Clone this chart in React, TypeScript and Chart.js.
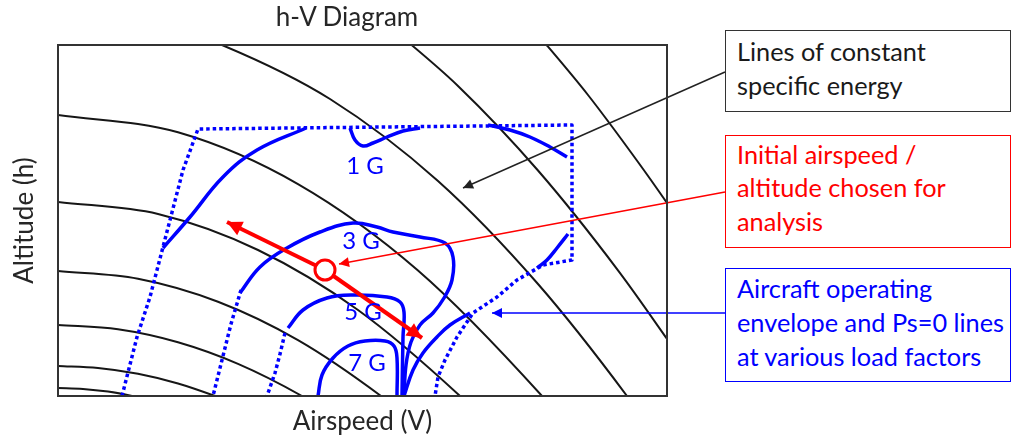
import React, { useEffect, useRef } from 'react';
import { Chart, registerables } from 'chart.js';

Chart.register(...registerables);

// Axis ranges (arbitrary airspeed / altitude units)
const V_MAX = 609;
const H_MAX = 351;

// Lines of constant specific energy
const energy1 = [{ x: 0, y: 8 }, { x: 25, y: 7.1 }, { x: 50, y: 4.4 }, { x: 74, y: 0 }, { x: 95, y: -5 }];
const energy2 = [{ x: 0, y: 30 }, { x: 40, y: 28 }, { x: 80, y: 22.2 }, { x: 120, y: 12.5 }, { x: 157, y: 0 }, { x: 180, y: -9 }];
const energy3 = [{ x: 0, y: 71 }, { x: 60, y: 66.7 }, { x: 120, y: 53.7 }, { x: 180, y: 32.1 }, { x: 244, y: 0 }, { x: 270, y: -16 }];
const energy4 = [{ x: 0, y: 125 }, { x: 80, y: 117.3 }, { x: 160, y: 94.3 }, { x: 240, y: 55.9 }, { x: 323, y: 0 }, { x: 350, y: -22 }];
const energy5 = [{ x: 0, y: 194 }, { x: 100, y: 182 }, { x: 200, y: 146 }, { x: 300, y: 86 }, { x: 402, y: 0 }, { x: 430, y: -28 }];
const energy6 = [{ x: 0, y: 281 }, { x: 120, y: 263.7 }, { x: 240, y: 211.9 }, { x: 360, y: 125.5 }, { x: 484, y: 0 }, { x: 510, y: -31 }];
const energy7 = [{ x: 120, y: 366 }, { x: 164, y: 351 }, { x: 272, y: 297 }, { x: 380, y: 215 }, { x: 480, y: 112 }, { x: 569, y: 0 }, { x: 600, y: -44 }];
const energy8 = [{ x: 330, y: 371 }, { x: 400, y: 310 }, { x: 480, y: 225.5 }, { x: 560, y: 125.7 }, { x: 609, y: 57 }, { x: 630, y: 26 }];
const energy9 = [{ x: 470, y: 373 }, { x: 530, y: 301 }, { x: 580, y: 234 }, { x: 609, y: 193 }, { x: 630, y: 162 }];
const energyLines = [energy1, energy2, energy3, energy4, energy5, energy6, energy7, energy8, energy9];

// Operating envelope (dotted)
const envelopeOuter = [
  { x: 64, y: 0 }, { x: 79, y: 59 }, { x: 92, y: 99 }, { x: 105, y: 149 }, { x: 125, y: 226 }, { x: 140, y: 267 },
  { x: 514, y: 271 }, { x: 514, y: 136 }, { x: 485, y: 131 }, { x: 459, y: 116 }, { x: 439, y: 99 }, { x: 415, y: 83 },
  { x: 399, y: 59 }, { x: 387, y: 36 }, { x: 380, y: 19 }, { x: 377, y: 0 },
];
const envelope3G = [{ x: 183, y: 106 }, { x: 173, y: 72 }, { x: 164, y: 36 }, { x: 155, y: 0 }];
const envelope5G = [{ x: 227, y: 63 }, { x: 222, y: 42 }, { x: 217, y: 23 }, { x: 209, y: 0 }];

// Ps = 0 lines at various load factors
const ps1GLeft = [{ x: 105, y: 148 }, { x: 132, y: 179 }, { x: 165, y: 219 }, { x: 199, y: 246 }, { x: 248, y: 268 }];
const ps1GNotch = [{ x: 292, y: 268 }, { x: 297, y: 256 }, { x: 305, y: 250 }, { x: 315, y: 253 }, { x: 329, y: 259 }, { x: 345, y: 265 }, { x: 362, y: 268 }];
const ps1GRight = [{ x: 430, y: 271 }, { x: 452, y: 266 }, { x: 472, y: 259 }, { x: 492, y: 249 }, { x: 509, y: 239 }];
const ps1GLow = [{ x: 510, y: 162 }, { x: 499, y: 148 }, { x: 489, y: 136 }, { x: 479, y: 128 }];
const ps3G = [
  { x: 182, y: 103 }, { x: 202, y: 129 }, { x: 229, y: 148 }, { x: 262, y: 164 }, { x: 295, y: 173 }, { x: 319, y: 169 },
  { x: 335, y: 164 }, { x: 362, y: 159 }, { x: 387, y: 153 }, { x: 395, y: 139 }, { x: 394, y: 116 }, { x: 386, y: 98 },
  { x: 375, y: 83 }, { x: 362, y: 71 }, { x: 353, y: 54 }, { x: 348, y: 31 }, { x: 346, y: 0 },
];
const ps5G = [{ x: 230, y: 68 }, { x: 245, y: 86 }, { x: 269, y: 98 }, { x: 295, y: 101 }, { x: 329, y: 99 }, { x: 342, y: 94 }, { x: 346, y: 84 }, { x: 345, y: 59 }, { x: 344, y: 0 }];
const ps7G = [{ x: 260, y: 0 }, { x: 264, y: 21 }, { x: 275, y: 38 }, { x: 290, y: 50 }, { x: 307, y: 55 }, { x: 327, y: 55 }, { x: 336, y: 50 }, { x: 339, y: 38 }, { x: 339, y: 0 }];
const psBranch = [{ x: 346, y: 0 }, { x: 355, y: 26 }, { x: 365, y: 43 }, { x: 379, y: 59 }, { x: 392, y: 71 }, { x: 412, y: 83 }];

const gLabelText = ['1 G', '3 G', '5 G', '7 G'];
const gLabelV = [307, 303, 305, 309];
const gLabelH = [230, 155, 84, 33];

// Initial point and manoeuvre arrows
const initialPoint = [{ x: 267, y: 126 }];
const arrowClimb = [{ x: 267, y: 126 }, { x: 169, y: 174 }];
const arrowDive = [{ x: 267, y: 126 }, { x: 364, y: 58 }];

// Callout pointers (from the boxes into the plot)
const pointerEnergy = [{ x: 667, y: 324 }, { x: 405, y: 208 }];
const pointerInitial = [{ x: 667, y: 204 }, { x: 281, y: 132 }];
const pointerEnvelope = [{ x: 667, y: 83 }, { x: 434, y: 83 }];

const BLUE = '#0000ff';
const RED = '#ff0000';
const FONT = 'Lato, "Open Sans", sans-serif';

const decorPlugin = {
  id: 'decor',
  afterDatasetsDraw(chart: any) {
    const { ctx, chartArea: a, scales } = chart;
    ctx.save();
    chart.data.datasets.forEach((ds: any, i: number) => {
      if (!ds.arrowHead) return;
      const pts = chart.getDatasetMeta(i).data;
      const p1 = pts[pts.length - 2];
      const p2 = pts[pts.length - 1];
      const ang = Math.atan2(p2.y - p1.y, p2.x - p1.x);
      const L = ds.arrowHead;
      const W = L * 0.5;
      ctx.fillStyle = ds.borderColor;
      ctx.beginPath();
      ctx.moveTo(p2.x, p2.y);
      ctx.lineTo(p2.x - L * Math.cos(ang) + W * Math.sin(ang), p2.y - L * Math.sin(ang) - W * Math.cos(ang));
      ctx.lineTo(p2.x - L * Math.cos(ang) - W * Math.sin(ang), p2.y - L * Math.sin(ang) + W * Math.cos(ang));
      ctx.closePath();
      ctx.fill();
    });
    ctx.fillStyle = BLUE;
    ctx.font = '24px ' + FONT;
    ctx.textAlign = 'center';
    ctx.textBaseline = 'middle';
    gLabelText.forEach((t, i) => {
      ctx.fillText(t, scales.x.getPixelForValue(gLabelV[i]), scales.y.getPixelForValue(gLabelH[i]));
    });
    ctx.strokeStyle = '#333333';
    ctx.lineWidth = 2;
    ctx.strokeRect(a.left, a.top, a.right - a.left, a.bottom - a.top);
    ctx.restore();
  },
};

function line(data: any[], color: string, width: number, extra: any = {}) {
  return {
    data,
    showLine: true,
    borderColor: color,
    backgroundColor: color,
    borderWidth: width,
    pointRadius: 0,
    pointHoverRadius: 0,
    fill: false,
    borderJoinStyle: 'round',
    ...extra,
  };
}

export default function App() {
  const ref = useRef<HTMLCanvasElement>(null);

  useEffect(() => {
    const canvas = ref.current;
    if (!canvas) return;
    const solidBlue = { tension: 0.4, order: 2 };
    const dottedBlue = { tension: 0, borderDash: [3.5, 3], order: 2 };
    const datasets: any[] = [
      line(initialPoint, RED, 3, { showLine: false, pointRadius: 10, pointBorderWidth: 3, pointBackgroundColor: '#ffffff', pointBorderColor: RED, order: 0 }),
      line(arrowClimb, RED, 4, { arrowHead: 15, order: 1 }),
      line(arrowDive, RED, 4, { arrowHead: 15, order: 1 }),
      line(pointerEnergy, '#222222', 1.5, { arrowHead: 10, clip: false, order: 1 }),
      line(pointerInitial, RED, 1.5, { arrowHead: 10, clip: false, order: 1 }),
      line(pointerEnvelope, BLUE, 1.5, { arrowHead: 10, clip: false, order: 1 }),
      line(envelopeOuter, BLUE, 3.5, dottedBlue),
      line(envelope3G, BLUE, 3.5, dottedBlue),
      line(envelope5G, BLUE, 3.5, dottedBlue),
      line(ps1GLeft, BLUE, 3.5, solidBlue),
      line(ps1GNotch, BLUE, 3.5, solidBlue),
      line(ps1GRight, BLUE, 3.5, solidBlue),
      line(ps1GLow, BLUE, 3.5, solidBlue),
      line(ps3G, BLUE, 3.5, solidBlue),
      line(ps5G, BLUE, 3.5, solidBlue),
      line(ps7G, BLUE, 3.5, solidBlue),
      line(psBranch, BLUE, 3.5, solidBlue),
      ...energyLines.map((d) => line(d, '#161616', 2, { cubicInterpolationMode: 'monotone', order: 3 })),
    ];

    const chart = new Chart(canvas, {
      type: 'scatter',
      data: { datasets },
      options: {
        responsive: false,
        animation: false,
        events: [],
        devicePixelRatio: 1,
        layout: { padding: { left: 0, right: 346, top: 45, bottom: 0 } },
        plugins: { legend: { display: false }, tooltip: { enabled: false }, title: { display: false } },
        scales: {
          x: {
            type: 'linear',
            min: 0,
            max: V_MAX,
            grid: { display: false, drawTicks: false },
            border: { display: false },
            ticks: { display: false },
            title: { display: true, text: 'Airspeed (V)', color: '#262626', font: { family: FONT, size: 26 }, padding: { top: 10.4, bottom: 5.4 } },
          },
          y: {
            type: 'linear',
            min: 0,
            max: H_MAX,
            grid: { display: false, drawTicks: false },
            border: { display: false },
            ticks: { display: false },
            title: { display: true, text: 'Altitude (h)', color: '#262626', font: { family: FONT, size: 26 }, padding: { top: 9.4, bottom: 17.4 } },
          },
        },
      },
      plugins: [decorPlugin],
    } as any);
    return () => chart.destroy();
  }, []);

  const boxes = [
    { lines: ['Lines of constant', 'specific energy'], color: '#1a1a1a', border: '#333333', top: 30, height: 82, lh: 34, pad: 3.4 },
    { lines: ['Initial airspeed /', 'altitude chosen for', 'analysis'], color: RED, border: RED, top: 135, height: 113, lh: 33.3, pad: 2 },
    { lines: ['Aircraft operating', 'envelope and Ps=0 lines', 'at various load factors'], color: BLUE, border: BLUE, top: 268, height: 114, lh: 34.2, pad: 1.6 },
  ];

  return (
    <div style={{ position: 'absolute', left: 0, top: 0, width: 1013, height: 443, background: '#ffffff', overflow: 'hidden', fontFamily: FONT }}>
      <canvas ref={ref} width={1013} height={443} style={{ position: 'absolute', left: 0, top: 0, width: 1013, height: 443 }} />
      <div style={{ position: 'absolute', left: 347, top: 1, transform: 'translateX(-50%)', fontSize: 26, lineHeight: '31.2px', color: '#262626', whiteSpace: 'nowrap' }}>
        h-V Diagram
      </div>
      {boxes.map((b, i) => (
        <div
          key={i}
          style={{
            position: 'absolute',
            left: 725,
            top: b.top,
            width: 286,
            height: b.height,
            boxSizing: 'border-box',
            border: '1.5px solid ' + b.border,
            paddingLeft: 11,
            paddingTop: b.pad,
            color: b.color,
            fontSize: 25.3,
            lineHeight: b.lh + 'px',
            whiteSpace: 'nowrap',
            background: '#ffffff',
          }}
        >
          {b.lines.map((t, j) => (
            <div key={j}>{t}</div>
          ))}
        </div>
      ))}
    </div>
  );
}
